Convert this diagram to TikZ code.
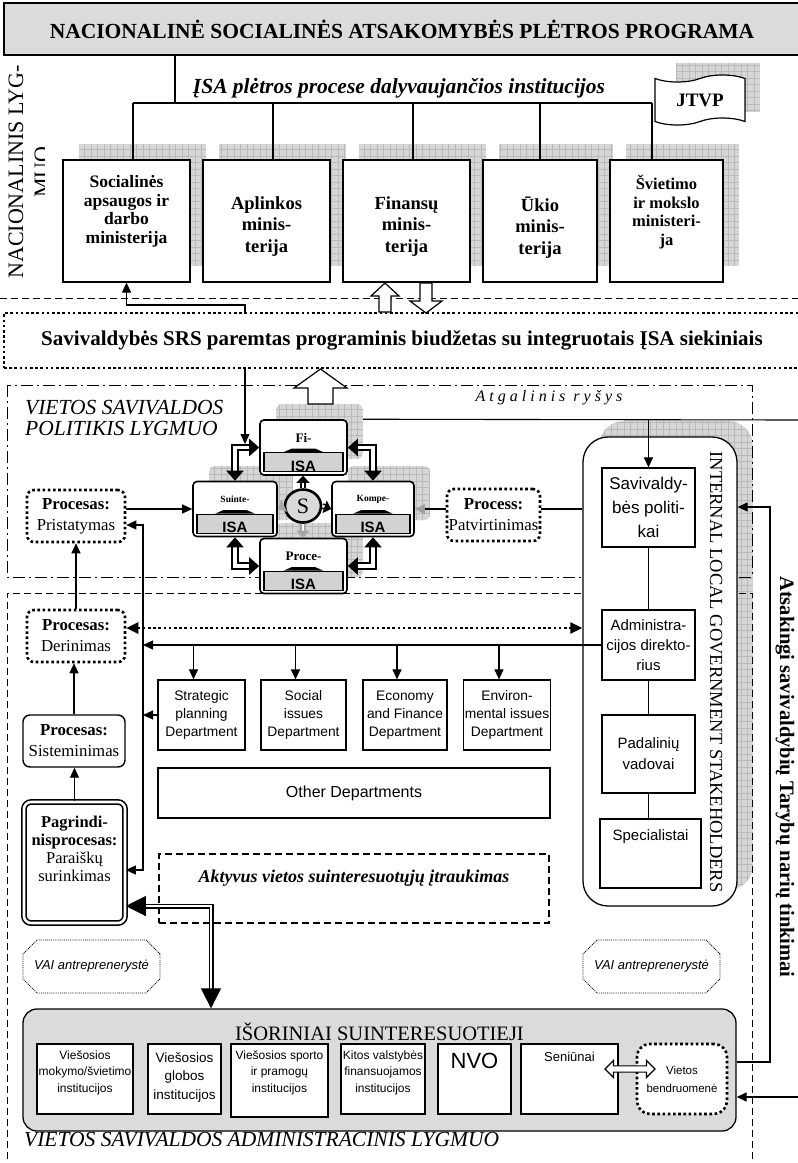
\documentclass[tikz,border=0pt]{standalone}
\usepackage{fontspec}
\setmainfont{Liberation Serif}
\setsansfont{Liberation Sans}
\usetikzlibrary{positioning,arrows.meta,shapes.geometric,shapes.symbols,shapes.arrows,shapes.misc,backgrounds}

\newcommand{\boxshadow}[3][0pt]{%
  \begin{scope}
    \clip[rounded corners=#1] #2 rectangle #3;
    \fill[shadowfill] #2 rectangle #3;
    \draw[gridline] #2 grid #3;
  \end{scope}}

\tikzset{
  ln/.style={line width=1.1pt},
  arr/.style={line width=1.1pt, -{Triangle[length=10pt,width=9pt]}},
  biarr/.style={line width=1.1pt, {Triangle[length=10pt,width=9pt]}-{Triangle[length=10pt,width=9pt]}},
  dotarr/.style={line width=2.6pt, dash pattern=on 2.6pt off 2.6pt, {Triangle[length=12pt,width=11pt]}-{Triangle[length=12pt,width=11pt]}},
  dblarr/.style={double=white, line width=1.2pt, double distance=2.6pt, {Triangle[length=20pt,width=20pt]}-{Triangle[length=20pt,width=20pt]}},
  bentarr/.style={double=white, line width=2.2pt, double distance=3.4pt, {Triangle[length=10pt,width=17pt]}-{Triangle[length=10pt,width=17pt]}},
  sarr/.style={double=white, line width=1.4pt, double distance=2.6pt, -{Triangle[length=7pt,width=13pt]}},
  hollow/.style={draw, line width=1.2pt, fill=white},
  shadowfill/.style={fill=gray!32},
  gridline/.style={draw=gray!55, line width=0.3pt, step=6.5pt},
  dashdot/.style={line width=0.9pt, dash pattern=on 12pt off 4pt on 2pt off 4pt},
  dashframe/.style={line width=1pt, dash pattern=on 7pt off 4pt},
  banner/.style={draw, line width=1.2pt, fill=gray!28, minimum width=796pt, minimum height=52pt, inner sep=0pt, font=\bfseries\fontsize{21.5}{24}\selectfont},
  minbox/.style={draw, line width=1.2pt, fill=white, minimum height=122pt},
  mintxt/.style={align=center, inner sep=0pt, font=\bfseries\fontsize{18.5}{21.5}\selectfont},
  minsmall/.style={mintxt, font=\bfseries\fontsize{16.5}{18.5}\selectfont},
  dotbox/.style={draw, line width=2.6pt, dash pattern=on 2.6pt off 2.6pt},
  procbox/.style={rounded corners=7pt, fill=white, minimum width=98pt, minimum height=52pt, align=center, inner sep=1pt, font=\fontsize{16.8}{21}\selectfont},
  isabox/.style={draw, line width=1.6pt, rounded corners=4pt, fill=white, minimum height=55pt, inner sep=0pt},
  isabar/.style={draw, line width=1.1pt, fill=gray!35, minimum height=19pt, inner sep=0pt},
  deptbox/.style={draw, line width=1.2pt, fill=white, minimum height=70pt, align=center, inner sep=1pt, font=\sffamily\fontsize{13.8}{18}\selectfont},
  stkbox/.style={draw, line width=1.2pt, fill=white, minimum width=93pt, align=center, inner sep=1pt, font=\sffamily\fontsize{15}{20}\selectfont},
  extbox/.style={draw, line width=1.5pt, fill=white, minimum height=70pt},
  exttxt/.style={align=center, inner sep=0pt, font=\sffamily\fontsize{12}{16.5}\selectfont},
  vai/.style={chamfered rectangle, chamfered rectangle xsep=7pt, chamfered rectangle ysep=7pt, draw, line width=0.9pt, densely dotted, minimum width=137pt, minimum height=53pt, font=\sffamily\itshape\fontsize{13}{15}\selectfont},
  lvltxt/.style={inner sep=0pt, align=left, font=\itshape\fontsize{21.5}{21}\selectfont}
}

\begin{document}
\begin{tikzpicture}[x=1pt,y=-1pt]
\useasboundingbox (0,0) rectangle (798,1163);

%Shape: Rectangle [national programme]
\node[banner] (nat) at (402,29) {NACIONALINĖ SOCIALINĖS ATSAKOMYBĖS PLĖTROS PROGRAMA};

% Text Node
\begin{scope}
  \clip (0,50) rectangle (44,300);
  \node[rotate=90, align=center, inner sep=0pt, font=\fontsize{22}{26}\selectfont] (natlvl) at (29,172) {NACIONALINIS LYG-\\MUO};
\end{scope}
% Text Node
\node[inner sep=0pt, font=\bfseries\itshape\fontsize{21.5}{24}\selectfont] (isainst) at (399,88) {ĮSA plėtros procese dalyvaujančios institucijos};

%Shape: Tape
\node[tape, draw, line width=1.2pt, fill=white, minimum width=90pt, minimum height=50pt, tape bend height=7pt, font=\bfseries\fontsize{19}{22}\selectfont] (jtvp) at (700,100) {JTVP};

%Shape: Ministries
\node[minbox, minimum width=127pt] (soc) at (126.5,221) {};
\node[minbox, minimum width=127pt] (apl) at (266.5,221) {};
\node[minbox, minimum width=127pt] (fin) at (406.5,221) {};
\node[minbox, minimum width=114pt] (uk) at (540,221) {};
\node[minbox, minimum width=113pt] (sv) at (666.5,221) {};
% Text Node
\node[minsmall, font=\bfseries\fontsize{17.5}{18.5}\selectfont, below=16pt of soc.north] (soc-t) {Socialinės\\apsaugos ir\\darbo\\ministerija};
\node[mintxt, below=37pt of apl.north] (apl-t) {Aplinkos\\minis-\\terija};
\node[mintxt, below=37pt of fin.north] (fin-t) {Finansų\\minis-\\terija};
\node[mintxt, below=37pt of uk.north] (uk-t) {Ūkio\\minis-\\terija};
\node[minsmall, below=16pt of sv.north] (sv-t) {Švietimo\\ir mokslo\\ministeri-\\ja};

%Straight Lines
\coordinate (trunk) at (175,103);
\draw[ln] (nat.south -| trunk) -- (trunk);
\draw[ln] ([xshift=6.5pt]soc.north |- trunk) -- ([xshift=-14.5pt]sv.north |- trunk);
\foreach \m/\dx in {soc/6.5,apl/6.5,fin/6.5,uk/0,sv/-14.5}
  \draw[ln] ([xshift=\dx pt]\m.north |- trunk) -- ([xshift=\dx pt]\m.north);

%Shape: Rectangle [SRS budget]
\node[dotbox, minimum width=796pt, minimum height=55pt, font=\bfseries\fontsize{21}{24}\selectfont] (srs) at (402,340.5) {Savivaldybės SRS paremtas programinis biudžetas su integruotais ĮSA siekiniais};

%Shape: Block arrows
\draw[hollow] (385,283) -- (399,296) -- (391,296) -- (391,312) -- (379,312) -- (379,296) -- (371,296) -- cycle;
\draw[hollow] (426,313) -- (442,301) -- (432,301) -- (432,283) -- (420,283) -- (420,301) -- (410,301) -- cycle;
\draw[hollow] (320.5,369) -- (347,388) -- (333,388) -- (333,404) -- (308,404) -- (308,388) -- (294,388) -- cycle;

%Straight Lines
\coordinate (kink) at (245,305);
\draw[arr] (srs.north -| kink) -- (kink) -| (soc.south);
\coordinate (fitip) at (245,444);
\draw[arr] (srs.south -| fitip) -- (fitip);

% Text Node
\node[lvltxt, anchor=west] (polit) at (25,418) {VIETOS SAVIVALDOS\\POLITIKIS LYGMUO};
\node[inner sep=0pt, font=\itshape\fontsize{16}{19}\selectfont\addfontfeature{LetterSpace=25}] (atg) at (549,398) {Atgalinis ryšys};
\node[lvltxt, anchor=west] (adminlvl) at (24,1140) {VIETOS SAVIVALDOS ADMINISTRACINIS LYGMUO};

%Shape: ISA cluster
\foreach \nm/\cx/\cy/\w/\bw/\lab/\fs in {fi/303.5/447.5/87/79/Fi-/13, suinte/235/509/84/76/Suinte-/9.5, kompe/373/509/82/74/Kompe-/9.5, proce/303.5/566/87/79/Proce-/13}{
  \node[isabox, minimum width=\w pt] (\nm) at (\cx,\cy) {};
  \node[isabar, minimum width=\bw pt, anchor=south] (\nm-bar) at ([yshift=3.5pt]\nm.south) {};
  \begin{scope}
    \clip (\nm-bar.south west) rectangle (\nm-bar.north east);
    \node[font=\sffamily\bfseries\fontsize{15}{15}\selectfont] at ([yshift=-4pt]\nm-bar.center) {ISA};
  \end{scope}
  \fill ([xshift=-20pt]\nm-bar.north) -- ([xshift=-12pt,yshift=3.5pt]\nm-bar.north) -- ([xshift=12pt,yshift=3.5pt]\nm-bar.north) -- ([xshift=20pt]\nm-bar.north) -- cycle;
  \node[inner sep=0pt, font=\bfseries\fontsize{\fs}{\fs}\selectfont] at ([yshift=-19pt]\nm.north) {\lab};
}
\node[ellipse, draw, line width=2.6pt, fill=gray!30, minimum width=36pt, minimum height=33pt, inner sep=0pt, font=\fontsize{22}{22}\selectfont] (s) at (303,506) {S};
\draw[sarr] (s.north) -- (s.north |- fi.south);
\draw[sarr] (s.east) -- (kompe.west);
\draw[sarr, draw=gray!70] (s.west) -- (suinte.east);
\draw[sarr, draw=gray!70] (s.south) -- (s.south |- proce.north);
\draw[bentarr] (fi.west) -| (suinte.north);
\draw[bentarr] (fi.east) -| (kompe.north);
\draw[bentarr] (proce.west) -| (suinte.south);
\draw[bentarr] (proce.east) -| (kompe.south);

%Shape: Processes
\node[procbox, dotbox] (prist) at (76,516) {\textbf{Procesas:}\\Pristatymas};
\node[procbox, dotbox] (der) at (76,636) {\textbf{Procesas:}\\Derinimas};
\node[procbox, draw, line width=1.4pt, minimum width=102pt] (sist) at (74,741) {\textbf{Procesas:}\\Sisteminimas};
\node[procbox, draw, double, line width=1.6pt, double distance=2.6pt, minimum width=101pt, minimum height=121pt] (pag) at (74.5,862.5) {};
\node[align=center, inner sep=0pt, font=\fontsize{16.5}{18}\selectfont, below=15pt of pag.north] (pag-t) {\textbf{Pagrindi-}\\\textbf{nisprocesas:}\\Paraiškų\\surinkimas};
\node[procbox, dotbox, minimum width=93pt] (patv) at (493.5,515) {\textbf{Process:}\\Patvirtinimas};

%Shape: Internal stakeholders
\node[draw, line width=1.3pt, fill=white, rounded corners=25pt, minimum width=154pt, minimum height=469pt] (stk) at (660,671.5) {};
\node[rotate=-90, inner sep=0pt, font=\fontsize{18.5}{20}\selectfont] (stk-t) at (716,672) {INTERNAL LOCAL GOVERNMENT STAKEHOLDERS};
\node[stkbox, minimum height=79pt, font=\sffamily\fontsize{17}{24}\selectfont] (savpol) at (648.5,507.5) {Savivaldy-\\bės politi-\\kai};
\node[stkbox, minimum height=70pt] (adm) at (648.5,645) {Administra-\\cijos direkto-\\rius};
\node[stkbox, minimum height=78pt, font=\sffamily\fontsize{15}{21}\selectfont] (padal) at (648.5,754) {Padalinių\\vadovai};
\node[stkbox, minimum width=101pt, minimum height=69pt] (spec) at (650.5,853.5) {};
\node[inner sep=0pt, font=\sffamily\fontsize{15}{18}\selectfont, below=11pt of spec.north] (spec-t) {Specialistai};
\draw[ln] (savpol.south) -- (adm.north);
\draw[ln] (adm.south) -- (padal.north);
\draw[ln] (padal.south) -- (padal.south |- spec.north);

% Text Node
\node[rotate=-90, inner sep=0pt, font=\bfseries\fontsize{20.5}{22}\selectfont] (resp) at (785,777) {Atsakingi savivaldybių Tarybų narių tinkimai};

%Shape: Departments
\node[deptbox, minimum width=87pt] (strat) at (201.5,715) {Strategic\\planning\\Department};
\node[deptbox, minimum width=85pt] (social) at (303.5,715) {Social\\issues\\Department};
\node[deptbox, minimum width=84pt] (econ) at (405,715) {Economy\\and Finance\\Department};
\node[deptbox, minimum width=86pt] (env) at (507,715) {Environ-\\mental issues\\Department};
\node[deptbox, minimum width=392pt, minimum height=50pt, font=\sffamily\fontsize{16}{18}\selectfont] (other) at (354,793) {Other Departments};
\node[draw, line width=1.2pt, dash pattern=on 7pt off 4pt, minimum width=390pt, minimum height=69pt] (akt) at (354,888.5) {};
\node[inner sep=0pt, font=\bfseries\itshape\fontsize{18}{20}\selectfont, below=16pt of akt.north] (akt-t) {Aktyvus vietos suinteresuotųjų įtraukimas};

%Straight Lines
\draw[arr] (pag.north) -- (pag.north |- sist.south);
\draw[arr] (sist.north) -- (sist.north |- der.south);
\draw[arr] (der.north) -- (der.north |- prist.south);
\draw[arr] (prist.east |- suinte.west) -- (suinte.west);
\coordinate (bustop) at (143,525);
\coordinate (busbot) at (143,870);
\draw[biarr] (prist.east |- bustop) -- (bustop) -- (busbot) -- (pag.east |- busbot);
\draw[arr] (adm.west) -- (adm.west -| bustop);
\foreach \d in {strat,social,econ,env}
  \draw[arr] ([xshift=-8pt]\d.north |- adm.west) -- ([xshift=-8pt]\d.north);
\draw[arr] (strat.west) -- (strat.west -| bustop);
\draw[dotarr] ([yshift=8pt]der.east) -- ([yshift=8pt]der.east -| stk.west);
\draw[ln, -{Triangle[length=10pt,width=10pt,color=gray!75]}] (patv.west |- kompe.east) -- (kompe.east);
\draw[ln] (patv.east |- kompe.east) -- (kompe.east -| stk.west);
\coordinate (fbr) at (798,420);
\draw[arr] (savpol.north |- fbr) -- (savpol.north);

%Shape: VAI
\node[vai] (vai1) at (91.5,966.5) {VAI antreprenerystė};
\node[vai] (vai2) at (651.5,966.5) {VAI antreprenerystė};

%Shape: External stakeholders
\node[draw, line width=1.3pt, fill=gray!28, rounded corners=14pt, minimum width=713pt, minimum height=122pt] (isor) at (379.5,1070) {};
\node[inner sep=0pt, font=\fontsize{20.5}{22}\selectfont, below=14pt of isor.north] (isor-t) {IŠORINIAI SUINTERESUOTIEJI};
\node[extbox, minimum width=96pt] (pub1) at (85,1079) {};
\node[exttxt, below=7pt of pub1.north] (pub1-t) {Viešosios\\mokymo/švietimo\\institucijos};
\node[extbox, minimum width=73pt] (pub2) at (184.5,1079) {};
\node[exttxt, font=\sffamily\fontsize{13.5}{18.5}\selectfont, below=9pt of pub2.north] (pub2-t) {Viešosios\\globos\\institucijos};
\node[extbox, minimum width=97pt, minimum height=73pt] (pub3) at (279.5,1080.5) {};
\node[exttxt, below=7pt of pub3.north] (pub3-t) {Viešosios sporto\\ir pramogų\\institucijos};
\node[extbox, minimum width=84pt] (kitos) at (383,1079) {};
\node[exttxt, below=7pt of kitos.north] (kitos-t) {Kitos valstybės\\finansuojamos\\institucijos};
\node[extbox, minimum width=73pt] (nvo) at (474.5,1079) {};
\node[exttxt, font=\sffamily\fontsize{22}{24}\selectfont, below=10pt of nvo.north] (nvo-t) {NVO};
\node[extbox, minimum width=97pt] (sen) at (569.5,1079) {};
\node[exttxt, font=\sffamily\fontsize{13}{16}\selectfont, below=9pt of sen.north] (sen-t) {Seniūnai};
\node[dotbox, rounded corners=13pt, fill=white, minimum width=90pt, minimum height=70pt, align=center, inner sep=0pt, font=\sffamily\fontsize{11.5}{18}\selectfont] (vb) at (682,1079) {Vietos\\bendruomenė};
\node[double arrow, draw, line width=1.1pt, fill=white, minimum height=50pt, minimum width=17pt, double arrow head extend=3pt, inner sep=1.2pt] (senvb) at (630,1069) {};

%Straight Lines
\coordinate (dk) at (211,906);
\draw[dblarr] (pag.east |- dk) -- (dk) -- (dk |- isor.north);
\coordinate (rtop) at (770,507);
\draw[arr] ([yshift=8pt]isor.east) -| (rtop) -- (rtop -| stk.east);
\coordinate (rin) at (798,1097);
\draw[arr] (rin) -- (rin -| isor.east);

% shadows and level frames
\begin{scope}[on background layer]
  \draw[ln] (fi.north east) -- (fbr);
  \boxshadow{(79,266)}{(206,144)}
  \boxshadow{(219,266)}{(346,144)}
  \boxshadow{(359,266)}{(486,144)}
  \boxshadow{(499,266)}{(613,144)}
  \boxshadow{(626,266)}{(739,144)}
  \boxshadow{(676,112)}{(760,63)}
  \boxshadow[6pt]{(276,459)}{(363,404)}
  \boxshadow[6pt]{(209,520)}{(293,466)}
  \boxshadow[6pt]{(348,520)}{(430,466)}
  \boxshadow[6pt]{(276,577)}{(363,523)}
  \boxshadow[25pt]{(599,890)}{(753,421)}
  \draw[dashframe] (0,298) -- (798,298);
  \draw[dashdot] (7,385) rectangle (752,577);
  \draw[dashframe] (7,1170) -- (7,593) -- (752,593) -- (752,1170);
\end{scope}

\end{tikzpicture}
\end{document}
